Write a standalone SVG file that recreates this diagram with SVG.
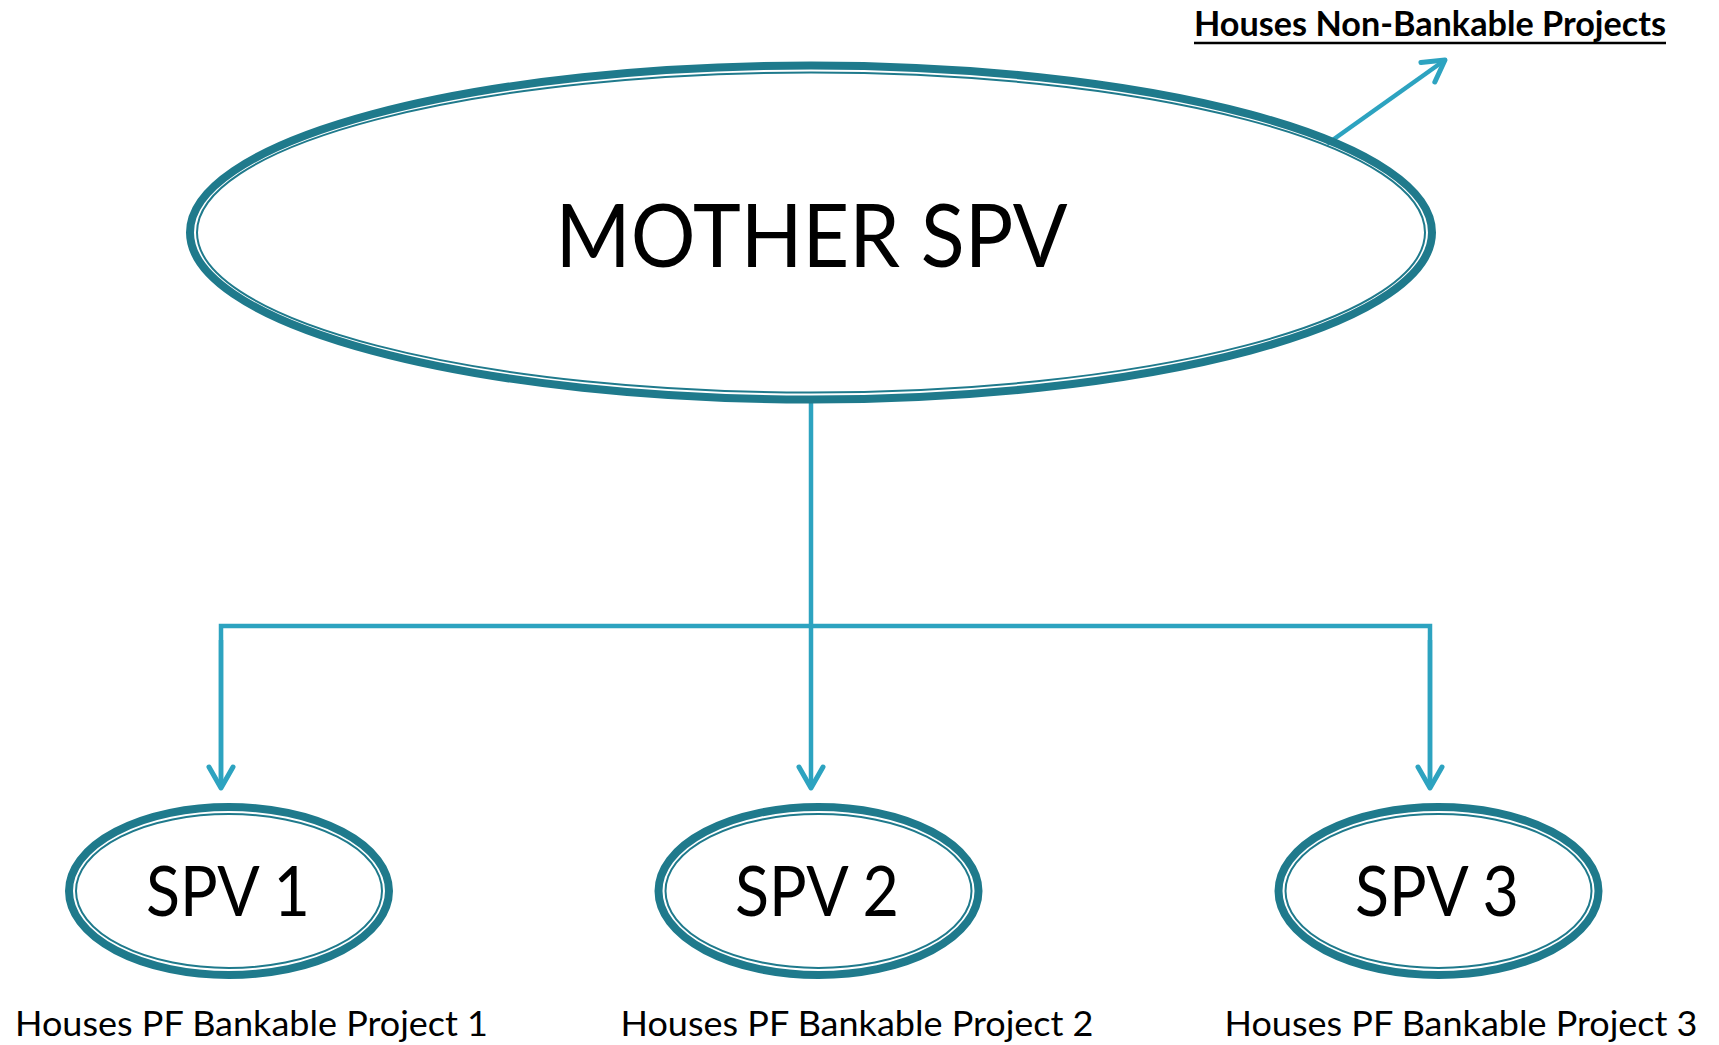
<svg xmlns="http://www.w3.org/2000/svg" width="1719" height="1045" viewBox="0 0 1719 1045">
  <defs>
    <style>
      .outer { fill: none; stroke: #1F7A8C; stroke-width: 8; }
      .inner { fill: none; stroke: #1F7A8C; stroke-width: 2; }
      .conn { fill: none; stroke: #2DA3C0; stroke-width: 4.5; }
      .big { font-family: Lato, "Open Sans", "Liberation Sans", sans-serif; font-size: 88px; fill: #000; text-anchor: middle; }
      .spv { font-family: Lato, "Open Sans", "Liberation Sans", sans-serif; font-size: 70px; fill: #000; text-anchor: middle; }
      .lbl { font-family: Lato, "Open Sans", "Liberation Sans", sans-serif; font-size: 34px; fill: #000; text-anchor: middle; }
      .top { font-family: Lato, "Open Sans", "Liberation Sans", sans-serif; font-size: 34px; font-weight: bold; fill: #000; text-anchor: middle; }
    </style>
    <marker id="arrow" markerUnits="userSpaceOnUse" viewBox="-26 -16 32 32" markerWidth="32" markerHeight="32" refX="0" refY="0" orient="auto" overflow="visible">
      <path d="M -21 -12 L 0 0 L -21 12" fill="none" stroke="#2DA3C0" stroke-width="5" stroke-linecap="round" stroke-linejoin="round"/>
    </marker>
  </defs>
  <rect width="1719" height="1045" fill="#fff"/>

  <g id="connectors">
    <line class="conn" x1="1327" y1="144" x2="1445" y2="60" marker-end="url(#arrow)"/>
    <line class="conn" x1="811" y1="400" x2="811" y2="788" marker-end="url(#arrow)"/>
    <polyline class="conn" points="221,788 221,626 1430,626 1430,788"/>
    <line class="conn" x1="221" y1="640" x2="221" y2="788" marker-end="url(#arrow)"/>
    <line class="conn" x1="1430" y1="640" x2="1430" y2="788" marker-end="url(#arrow)"/>
  </g>

  <g id="mother-spv">
    <ellipse class="outer" cx="811" cy="232.5" rx="621" ry="167"/>
    <ellipse class="inner" cx="811" cy="232.5" rx="614" ry="160"/>
    <text class="big" x="811.5" y="267" textLength="512" lengthAdjust="spacingAndGlyphs">MOTHER SPV</text>
  </g>

  <g id="non-bankable-label">
    <text class="top" x="1430" y="36" textLength="472" lengthAdjust="spacingAndGlyphs">Houses Non-Bankable Projects</text>
    <line x1="1194" y1="43" x2="1666" y2="43" stroke="#000" stroke-width="2.5"/>
  </g>

  <g id="spv1">
    <ellipse class="outer" cx="229" cy="891" rx="160" ry="84"/>
    <ellipse class="inner" cx="229" cy="891" rx="153" ry="77"/>
    <text class="spv" x="228" y="916" textLength="164" lengthAdjust="spacingAndGlyphs">SPV 1</text>
  </g>
  <g id="spv2">
    <ellipse class="outer" cx="818.5" cy="891" rx="160" ry="84"/>
    <ellipse class="inner" cx="818.5" cy="891" rx="153" ry="77"/>
    <text class="spv" x="817" y="916" textLength="164" lengthAdjust="spacingAndGlyphs">SPV 2</text>
  </g>
  <g id="spv3">
    <ellipse class="outer" cx="1438.5" cy="891" rx="160" ry="84"/>
    <ellipse class="inner" cx="1438.5" cy="891" rx="153" ry="77"/>
    <text class="spv" x="1437" y="916" textLength="164" lengthAdjust="spacingAndGlyphs">SPV 3</text>
  </g>

  <g id="label1">
    <text class="lbl" x="251.5" y="1036" textLength="473" lengthAdjust="spacingAndGlyphs">Houses PF Bankable Project 1</text>
  </g>
  <g id="label2">
    <text class="lbl" x="857" y="1036" textLength="473" lengthAdjust="spacingAndGlyphs">Houses PF Bankable Project 2</text>
  </g>
  <g id="label3">
    <text class="lbl" x="1461" y="1036" textLength="473" lengthAdjust="spacingAndGlyphs">Houses PF Bankable Project 3</text>
  </g>
</svg>
